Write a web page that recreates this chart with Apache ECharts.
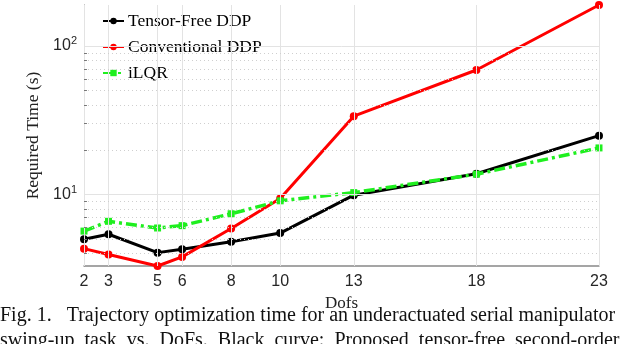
<!DOCTYPE html>
<html>
<head>
<meta charset="utf-8">
<script src="https://cdn.jsdelivr.net/npm/echarts@6/dist/echarts.min.js"></script>
<style>
  html, body { margin: 0; padding: 0; background: #fff; }
  #chart { width: 640px; height: 344px; }
</style>
</head>
<body>
<div id="chart"></div>
<script>
// data
var dofs = [2, 3, 5, 6, 8, 10, 13, 18, 23];
var tensorFree = [5.0, 5.4, 4.06, 4.28, 4.8, 5.5, 9.9, 13.8, 24.9];
var conventional = [4.32, 3.94, 3.3, 3.8, 5.9, 9.4, 33.7, 69, 189];
var ilqr = [5.67, 6.6, 5.95, 6.17, 7.42, 9.07, 10.3, 13.7, 20.6];
var yMajor = [10, 100];
var yMinor = [4, 5, 6, 7, 8, 9, 20, 30, 40, 50, 60, 70, 80, 90];

var serif = '"Liberation Serif", "DejaVu Serif", serif';
var sans = '"Liberation Sans", Arial, sans-serif';

function pairs(ys) {
  return dofs.map(function (x, i) { return [x, ys[i]]; });
}

var gridLines = [];
dofs.forEach(function (x) {
  gridLines.push({ xAxis: x, lineStyle: { color: '#e3e3e3', type: 'solid', width: 1 } });
});
yMajor.forEach(function (y) {
  gridLines.push({ yAxis: y, lineStyle: { color: '#e3e3e3', type: 'solid', width: 1 } });
});
yMinor.forEach(function (y) {
  gridLines.push({ yAxis: y, lineStyle: { color: '#cfcfcf', type: [1, 3], width: 1 } });
  // small inward minor tick on the left axis
  gridLines.push([
    { coord: [dofs[0], y], lineStyle: { color: '#777', type: 'solid', width: 1 } },
    { coord: [dofs[0] + 0.12, y] }
  ]);
});

var myChart = echarts.init(document.getElementById('chart'));
var option = {
  animation: false,
  grid: { left: 84, right: 41, top: 5, bottom: 78 },
  legend: {
    orient: 'vertical',
    left: 97,
    top: 7,
    itemWidth: 21,
    itemHeight: 8,
    itemGap: 8,
    textStyle: { fontFamily: serif, fontSize: 17.5, color: '#000', padding: [0, 0, 0, -1] },
    data: ['Tensor-Free DDP', 'Conventional DDP', 'iLQR']
  },
  xAxis: {
    type: 'value',
    min: 2,
    max: 23,
    name: 'Dofs',
    nameLocation: 'middle',
    nameGap: 21,
    nameTextStyle: { fontFamily: serif, fontSize: 17, color: '#222' },
    axisLine: { lineStyle: { color: '#888', width: 1.5 } },
    axisTick: { show: true, inside: true, length: 5, customValues: dofs, lineStyle: { color: '#888' } },
    axisLabel: { customValues: dofs, margin: 8, fontFamily: sans, fontSize: 16, color: '#262626' },
    splitLine: { show: false }
  },
  yAxis: {
    type: 'log',
    logBase: 10,
    min: 3.3,
    max: 189,
    name: 'Required Time (s)',
    nameLocation: 'middle',
    nameGap: 34,
    nameTextStyle: { fontFamily: serif, fontSize: 17.5, color: '#222' },
    axisLine: { show: true, lineStyle: { color: '#777', width: 1 } },
    axisTick: { show: true, inside: true, length: 5, customValues: yMajor, lineStyle: { color: '#777' } },
    axisLabel: {
      customValues: yMajor,
      margin: 7,
      fontFamily: sans,
      fontSize: 16,
      color: '#262626',
      formatter: function (v) {
        return '10{sup|' + Math.round(Math.log10(v)) + '}';
      },
      rich: {
        sup: { fontFamily: sans, fontSize: 11, color: '#262626', verticalAlign: 'bottom', padding: [0, 0, 10, 0] }
      }
    },
    splitLine: { show: false }
  },
  series: [
    {
      name: 'grid',
      type: 'line',
      data: [],
      z: 1,
      silent: true,
      markLine: {
        silent: true,
        symbol: 'none',
        label: { show: false },
        animation: false,
        data: gridLines
      }
    },
    {
      name: 'Tensor-Free DDP',
      type: 'line',
      z: 3,
      data: pairs(tensorFree),
      symbol: 'circle',
      symbolSize: 8,
      itemStyle: { color: '#000' },
      lineStyle: { color: '#000', width: 3 }
    },
    {
      name: 'Conventional DDP',
      type: 'line',
      z: 3,
      data: pairs(conventional),
      symbol: 'circle',
      symbolSize: 8,
      itemStyle: { color: '#ff0000' },
      lineStyle: { color: '#ff0000', width: 3 }
    },
    {
      name: 'iLQR',
      type: 'line',
      z: 4,
      data: pairs(ilqr),
      symbol: 'rect',
      symbolSize: 7,
      itemStyle: { color: '#1fef1f' },
      lineStyle: { color: '#1fef1f', width: 3.5, type: [11, 4, 3, 4] }
    }
  ],
  graphic: [
    {
      type: 'text',
      left: 0,
      top: 306,
      style: {
        text: 'Fig. 1.   Trajectory optimization time for an underactuated serial manipulator',
        font: '20px ' + serif,
        fill: '#111'
      }
    },
    {
      type: 'text',
      left: 0,
      top: 331,
      style: {
        text: 'swing-up  task  vs.  DoFs.  Black  curve:  Proposed  tensor-free  second-order',
        font: '20px ' + serif,
        fill: '#111'
      }
    }
  ]
};
myChart.setOption(option);
</script>
</body>
</html>
